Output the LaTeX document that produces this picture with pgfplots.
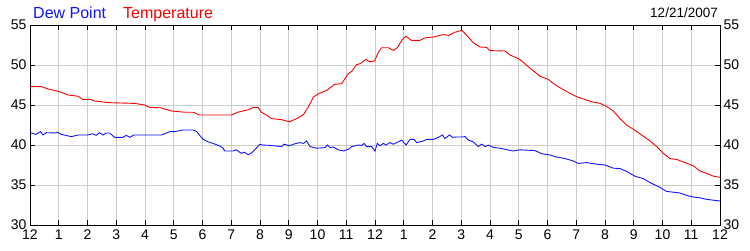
\documentclass[border=0pt]{standalone}
\usepackage{pgfplots}
\pgfplotsset{compat=1.18}
\usepackage{fontspec}
\setmainfont{Liberation Sans}
\definecolor{dpblue}{RGB}{20,20,255}
\definecolor{tred}{RGB}{255,0,0}
\begin{document}
\begin{tikzpicture}
\pgfplotsset{
  base/.style={
    at={(30pt,25pt)}, anchor=south west,
    scale only axis, width=690pt, height=200pt,
    xmin=0, xmax=24, ymin=30, ymax=55,
    axis line style={black, line width=0.9pt},
    tick style={black, line width=0.9pt},
    major tick length=5pt, tick align=inside,
    tick label style={font=\fontsize{14}{16}\selectfont},
    /pgf/number format/assume math mode=true,
    ytick={30,35,40,45,50,55},
  }
}
\begin{axis}[base,
  xtick={0,...,24},
  xticklabels={12,1,2,3,4,5,6,7,8,9,10,11,12,1,2,3,4,5,6,7,8,9,10,11,12},
  grid=major, major grid style={color=black!20, line width=0.9pt},
  yticklabel pos=left,
  xticklabel pos=lower,
  xticklabel style={yshift=-1pt},
]
\addplot[tred, line width=0.9pt] coordinates {
(0,47.3)(0.4,47.3)(0.63,47.0)(1.03,46.67)(1.32,46.25)(1.67,46.1)(1.84,45.7)(2.1,45.7)(2.25,45.5)(2.71,45.3)(3.64,45.2)(3.99,45.0)(4.16,44.7)(4.55,44.65)(4.92,44.25)(5.38,44.1)(5.67,44.1)(5.9,43.75)(7.0,43.75)(7.23,44.1)(7.58,44.4)(7.79,44.7)(7.93,44.7)(8.05,44.1)(8.28,43.6)(8.4,43.3)(8.75,43.17)(9.02,42.9)(9.28,43.3)(9.51,43.8)(9.68,44.75)(9.86,46.0)(10.03,46.4)(10.32,46.83)(10.6,47.58)(10.84,47.67)(11.07,48.92)(11.19,49.2)(11.36,50.04)(11.48,50.17)(11.69,50.7)(11.8,50.4)(11.98,50.5)(12.12,51.6)(12.23,52.16)(12.46,52.16)(12.64,51.83)(12.78,52.16)(12.93,53.08)(13.07,53.6)(13.27,53.08)(13.56,53.08)(13.74,53.4)(14.03,53.5)(14.38,53.8)(14.57,53.7)(14.78,54.1)(15.02,54.33)(15.19,53.7)(15.42,52.8)(15.65,52.25)(15.88,52.2)(16.0,51.8)(16.52,51.75)(16.7,51.25)(17.04,50.7)(17.39,49.6)(17.74,48.6)(18.03,48.2)(18.2,47.7)(18.43,47.17)(18.78,46.46)(19.02,46.04)(19.25,45.75)(19.54,45.4)(19.83,45.2)(20.06,44.8)(20.29,44.25)(20.52,43.3)(20.75,42.5)(20.99,41.96)(21.33,41.1)(21.57,40.5)(21.8,39.8)(22.03,38.96)(22.26,38.3)(22.49,38.2)(22.78,37.8)(23.07,37.4)(23.3,36.75)(23.54,36.46)(23.77,36.1)(24.0,35.96)
};
\addplot[dpblue, line width=0.9pt] coordinates {
(0,41.54)(0.2,41.33)(0.37,41.67)(0.45,41.25)(0.57,41.54)(0.88,41.5)(0.95,41.6)(1.09,41.33)(1.44,41.04)(1.67,41.25)(2.0,41.25)(2.18,41.4)(2.3,41.2)(2.42,41.54)(2.54,41.25)(2.65,41.5)(2.77,41.5)(2.94,40.96)(3.23,40.96)(3.35,41.2)(3.47,40.96)(3.62,41.25)(4.57,41.25)(4.68,41.4)(4.86,41.67)(5.03,41.67)(5.32,41.875)(5.67,41.875)(5.79,41.7)(6.02,40.7)(6.19,40.4)(6.37,40.2)(6.6,39.875)(6.72,39.6)(6.77,39.25)(7.06,39.25)(7.18,39.4)(7.35,38.96)(7.46,39.1)(7.58,38.8)(7.67,38.9)(7.81,39.375)(7.99,40.08)(8.1,40.0)(8.35,39.95)(8.75,39.8)(8.84,40.1)(9.02,39.9)(9.16,40.1)(9.39,40.3)(9.51,40.2)(9.62,40.5)(9.74,39.8)(9.97,39.6)(10.26,39.67)(10.35,40.0)(10.44,39.67)(10.55,39.75)(10.72,39.4)(10.9,39.25)(11.07,39.46)(11.19,39.8)(11.42,40.0)(11.54,39.95)(11.62,40.2)(11.71,39.8)(11.88,39.8)(12.0,39.25)(12.08,40.2)(12.17,39.9)(12.29,40.2)(12.38,40.0)(12.52,40.3)(12.64,40.1)(12.81,40.4)(12.93,40.6)(13.08,40.0)(13.22,40.7)(13.36,40.7)(13.45,40.3)(13.68,40.5)(13.8,40.7)(14.03,40.7)(14.2,40.96)(14.35,41.25)(14.43,40.8)(14.59,41.25)(14.7,40.96)(14.84,41.0)(15.02,41.0)(15.13,41.05)(15.25,40.6)(15.42,40.4)(15.59,39.8)(15.71,40.1)(15.83,39.8)(15.94,40.0)(16.12,39.7)(16.35,39.6)(16.8,39.25)(17.04,39.4)(17.57,39.3)(17.8,38.9)(18.09,38.75)(18.32,38.5)(18.61,38.3)(18.9,38.0)(19.07,37.7)(19.36,37.8)(19.71,37.6)(20.0,37.5)(20.29,37.1)(20.52,37.06)(20.75,36.7)(21.04,36.1)(21.33,35.8)(21.57,35.3)(21.91,34.7)(22.14,34.2)(22.38,34.1)(22.61,34.0)(22.84,33.7)(23.07,33.5)(23.3,33.4)(23.54,33.2)(23.77,33.1)(24.0,33.0)
};
\end{axis}
\begin{axis}[base,
  xtick=\empty,
  yticklabel pos=right,
  axis line style={draw=none},
  tick style={draw=none},
]
\end{axis}
\node[anchor=base west, inner sep=0pt, text=dpblue, font=\fontsize{16}{18}\selectfont] at (33pt,232pt) {Dew Point};
\node[anchor=base west, inner sep=0pt, text=tred, font=\fontsize{16}{18}\selectfont] at (123pt,232pt) {Temperature};
\node[anchor=base east, inner sep=0pt, font=\fontsize{13.5}{16}\selectfont] at (718pt,233pt) {12/21/2007};
\pgfresetboundingbox
\path[use as bounding box] (0,0) rectangle (750pt,250pt);
\end{tikzpicture}
\end{document}
